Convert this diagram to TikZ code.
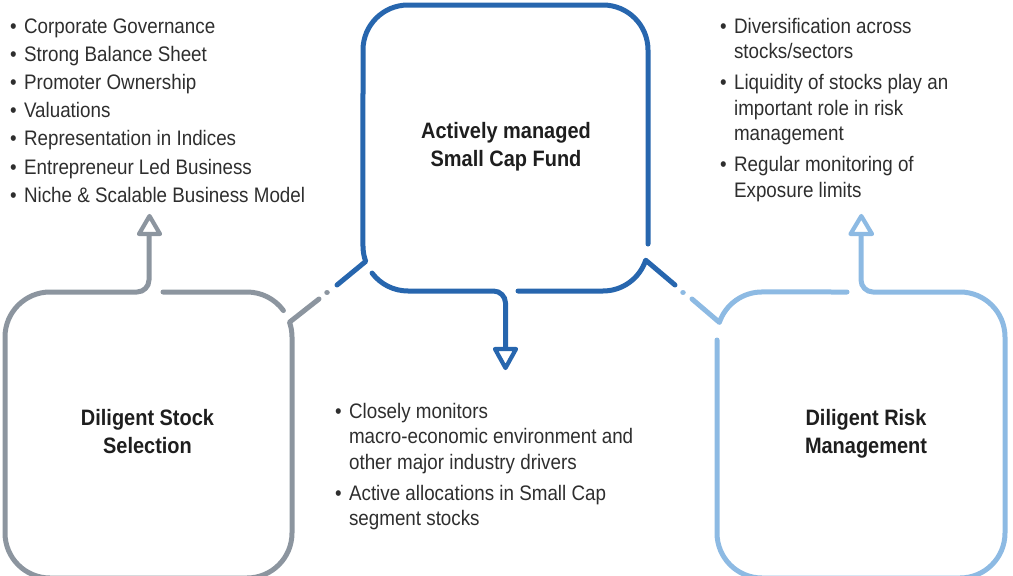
\documentclass[tikz,border=0pt]{standalone}
\usepackage{fontspec}
\setmainfont{Liberation Sans}[FakeStretch=0.895]
\definecolor{cblue}{HTML}{2766AE}
\definecolor{cgrey}{HTML}{8C959F}
\definecolor{clight}{HTML}{8DBAE3}
\definecolor{ctext}{HTML}{2E2E2E}
\definecolor{ctitle}{HTML}{1E1E1E}
\tikzset{
  boxline/.style={line width=5pt, line cap=round, line join=round},
  arrowtri/.style={line width=4.2pt, line join=round, fill=white},
  dotmark/.style={line width=5.5pt, line cap=round},
  listtext/.style={inner sep=0pt, anchor=base west, text=ctext, font=\fontsize{21}{25.5}\selectfont},
  titletext/.style={inner sep=0pt, anchor=base, text=ctitle, font=\bfseries\fontsize{22.3}{28.5}\selectfont}
}
\begin{document}
\begin{tikzpicture}[x=1pt,y=1pt]
\useasboundingbox (0,0) rectangle (1013,-576);
\clip (0,0) rectangle (1013,-576);

% ---------- key points ----------
\coordinate (bBR) at (645.7,-260.2);   % blue bottom-right kink
\coordinate (bBL) at (365.7,-261.4);   % blue bottom-left kink
\coordinate (gTR) at (289.5,-322.2);   % grey top-right kink
\coordinate (lTL) at (719.4,-322.4);   % light-blue top-left kink
\coordinate (gDot) at (327,-292.5);
\coordinate (lDot) at (683,-292.5);

% ---------- blue box (Actively managed Small Cap Fund) ----------
\draw[boxline, draw=cblue] (675,-285) -- (bBR) arc[start angle=-18.4, end angle=-90, radius=45] -- (518,-291);
\draw[boxline, draw=cblue] (505.5,-349) -- (505.5,-303) arc[start angle=0, end angle=90, radius=12] -- (408,-291)
      arc[start angle=-90, end angle=-143, radius=45];
\draw[boxline, draw=cblue] (337,-285) -- (bBL) arc[start angle=200, end angle=180, radius=45] -- (363,-50)
      arc[start angle=180, end angle=90, radius=45] -- (603,-5)
      arc[start angle=90, end angle=0, radius=45] -- (648,-244);
\draw[arrowtri, draw=cblue] (495,-349) -- (516,-349) -- (505.5,-368) -- cycle;

% ---------- grey box (Diligent Stock Selection) ----------
\draw[boxline, draw=cgrey] (319,-299) -- (gTR) arc[start angle=19.2, end angle=0, radius=45] -- (292,-533)
      arc[start angle=0, end angle=-90, radius=45] -- (50,-578)
      arc[start angle=-90, end angle=-180, radius=45] -- (5,-337)
      arc[start angle=180, end angle=90, radius=45] -- (137,-292)
      arc[start angle=-90, end angle=0, radius=12] -- (149,-234);
\draw[boxline, draw=cgrey] (163,-292) -- (247,-292) arc[start angle=90, end angle=36, radius=45];
\draw[dotmark, draw=cgrey] (gDot) -- ++(0.01,0);
\draw[arrowtri, draw=cgrey] (139,-234) -- (160,-234) -- (149.5,-216) -- cycle;

% ---------- light-blue box (Diligent Risk Management) ----------
\draw[boxline, draw=clight] (692,-299) -- (lTL) arc[start angle=161.1, end angle=90, radius=45] -- (847,-292);
\draw[boxline, draw=clight] (861,-234) -- (861,-280) arc[start angle=180, end angle=270, radius=12] -- (960,-292)
      arc[start angle=90, end angle=0, radius=45] -- (1005,-533)
      arc[start angle=0, end angle=-90, radius=45] -- (762,-578)
      arc[start angle=-90, end angle=-180, radius=45] -- (717,-340);
\draw[dotmark, draw=clight] (lDot) -- ++(0.01,0);
\draw[arrowtri, draw=clight] (850.5,-234) -- (872,-234) -- (861.3,-216) -- cycle;

% ---------- titles ----------
\node[titletext] (tfund) at (506,-138) {\begin{tabular}[t]{@{}c@{}}Actively managed\\Small Cap Fund\end{tabular}};
\node[titletext] (tstock) at (147.5,-425) {\begin{tabular}[t]{@{}c@{}}Diligent Stock\\Selection\end{tabular}};
\node[titletext] (trisk) at (866,-425) {\begin{tabular}[t]{@{}c@{}}Diligent Risk\\Management\end{tabular}};

% ---------- lists ----------
\node[listtext] (lstock) at (9.8,-33) {\begin{tabular}[t]{@{}l@{\hspace{7.5pt}}l@{}}
\textbullet & Corporate Governance\\[2.7pt]
\textbullet & Strong Balance Sheet\\[2.7pt]
\textbullet & Promoter Ownership\\[2.7pt]
\textbullet & Valuations\\[2.7pt]
\textbullet & Representation in Indices\\[2.7pt]
\textbullet & Entrepreneur Led Business\\[2.7pt]
\textbullet & Niche \& Scalable Business Model
\end{tabular}};

\node[listtext] (lrisk) at (719.8,-33.3) {\begin{tabular}[t]{@{}l@{\hspace{7.5pt}}l@{}}
\textbullet & Diversification across\\
 & stocks/sectors\\[5.5pt]
\textbullet & Liquidity of stocks play an\\
 & important role in risk\\
 & management\\[5.5pt]
\textbullet & Regular monitoring of\\
 & Exposure limits
\end{tabular}};

\node[listtext] (lfund) at (334.8,-418.3) {\begin{tabular}[t]{@{}l@{\hspace{7.5pt}}l@{}}
\textbullet & Closely monitors\\
 & macro-economic environment and\\
 & other major industry drivers\\[5.5pt]
\textbullet & Active allocations in Small Cap\\
 & segment stocks
\end{tabular}};
\end{tikzpicture}
\end{document}
